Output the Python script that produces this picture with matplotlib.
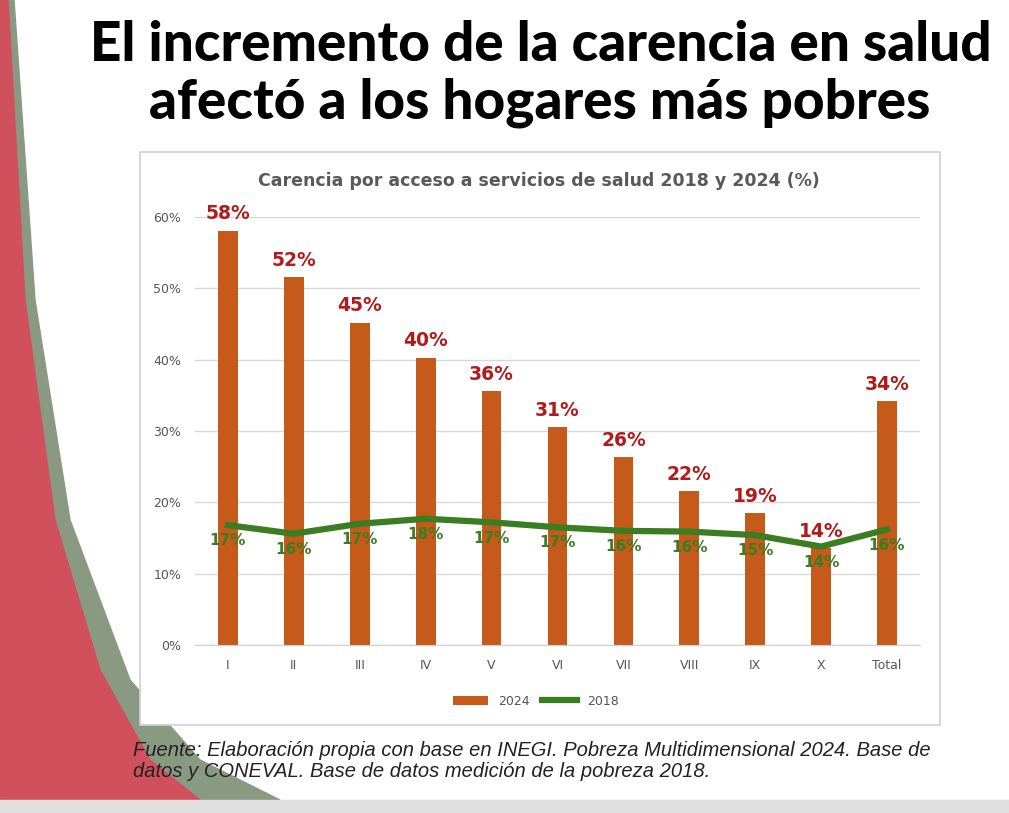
import matplotlib
matplotlib.use("Agg")
import matplotlib.pyplot as plt
from matplotlib.patches import Rectangle, Polygon

categories = ["I","II","III","IV","V","VI","VII","VIII","IX","X","Total"]
v2024 = [58.1, 51.6, 45.2, 40.3, 35.6, 30.5, 26.3, 21.6, 18.5, 13.6, 34.2]
v2018 = [16.8, 15.6, 17.0, 17.7, 17.2, 16.5, 16.0, 15.9, 15.4, 13.8, 16.2]
lab2024 = ["58%","52%","45%","40%","36%","31%","26%","22%","19%","14%","34%"]
lab2018 = ["17%","16%","17%","18%","17%","17%","16%","16%","15%","14%","16%"]

W, H = 1009, 813
fig = plt.figure(figsize=(W/100, H/100), dpi=100)
fig.patch.set_facecolor("white")

def fx(x): return x / W
def fy(y): return 1 - y / H

grey = Polygon([(fx(0), fy(0)), (fx(14), fy(0)), (fx(35), fy(300)), (fx(70), fy(520)),
                (fx(130), fy(680)), (fx(200), fy(760)), (fx(280), fy(800)), (fx(0), fy(800))],
               closed=True, transform=fig.transFigure, color="#8a9a82", zorder=0)
red = Polygon([(fx(0), fy(0)), (fx(8), fy(0)), (fx(25), fy(300)), (fx(55), fy(520)),
               (fx(100), fy(670)), (fx(150), fy(760)), (fx(200), fy(800)), (fx(0), fy(800))],
              closed=True, transform=fig.transFigure, color="#d0505c", zorder=1)
fig.patches.extend([grey, red])
fig.patches.append(Rectangle((0, 0), 1, 13/H, transform=fig.transFigure, color="#e0e0e0", zorder=1))

fig.text(fx(541), fy(45), "El incremento de la carencia en salud", ha="center", va="center",
         fontsize=39.5, fontweight="black", family="Lato", color="black")
fig.text(fx(540), fy(103), "afectó a los hogares más pobres", ha="center", va="center",
         fontsize=39.5, fontweight="black", family="Lato", color="black")

fig.patches.append(Rectangle((fx(140), fy(725)), fx(800), 573/H, transform=fig.transFigure,
                             facecolor="white", edgecolor="#d0d0d0", lw=1.2, zorder=2))

ax = fig.add_axes([fx(195), fy(645), fx(725), (645-217)/H])
ax.set_zorder(3)
ax.patch.set_alpha(0)
x = list(range(len(categories)))
ax.bar(x, v2024, width=0.3, color="#c55a1a", label="2024", zorder=2)
ax.plot(x, v2018, color="#3a7d22", lw=4.5, label="2018", zorder=3)
for i in x:
    ax.text(i, v2024[i] + 1.0, lab2024[i], ha="center", va="bottom", fontsize=13.5,
            fontweight="bold", color="#b01c1c", clip_on=False)
    ax.text(i, v2018[i] - 2.2, lab2018[i], ha="center", va="center", fontsize=11,
            fontweight="bold", color="#3a7d22", zorder=4)
ax.set_xlim(-0.5, len(categories) - 0.5)
ax.set_ylim(0, 60)
ax.set_yticks(range(0, 61, 10))
ax.set_yticklabels([f"{t}%" for t in range(0, 61, 10)], fontsize=9, color="#555555")
ax.set_xticks(x)
ax.set_xticklabels(categories, fontsize=9, color="#555555")
ax.tick_params(length=0, pad=10)
ax.grid(axis="y", color="#d9d9d9", lw=1, zorder=0)
for s in ["top", "right", "left"]:
    ax.spines[s].set_visible(False)
ax.spines["bottom"].set_color("#d0d0d0")
ax.set_title("Carencia por acceso a servicios de salud 2018 y 2024 (%)", fontsize=12.5,
             fontweight="bold", color="#595959", pad=22, x=0.475)
h, l = ax.get_legend_handles_labels()
ax.legend(h[::-1], l[::-1], loc="upper center", bbox_to_anchor=(0.47, -0.09), ncol=2, frameon=False,
          fontsize=9, labelcolor="#555555", handlelength=2.8, columnspacing=1.0)

fig.text(fx(133), fy(750), "Fuente: Elaboración propia con base en INEGI. Pobreza Multidimensional 2024. Base de",
         fontsize=14.5, style="italic", family="Liberation Sans", va="center", color="#222222")
fig.text(fx(133), fy(771), "datos y CONEVAL. Base de datos medición de la pobreza 2018.",
         fontsize=14.5, style="italic", family="Liberation Sans", va="center", color="#222222")

fig.savefig("out.png", dpi=100, facecolor="white")
